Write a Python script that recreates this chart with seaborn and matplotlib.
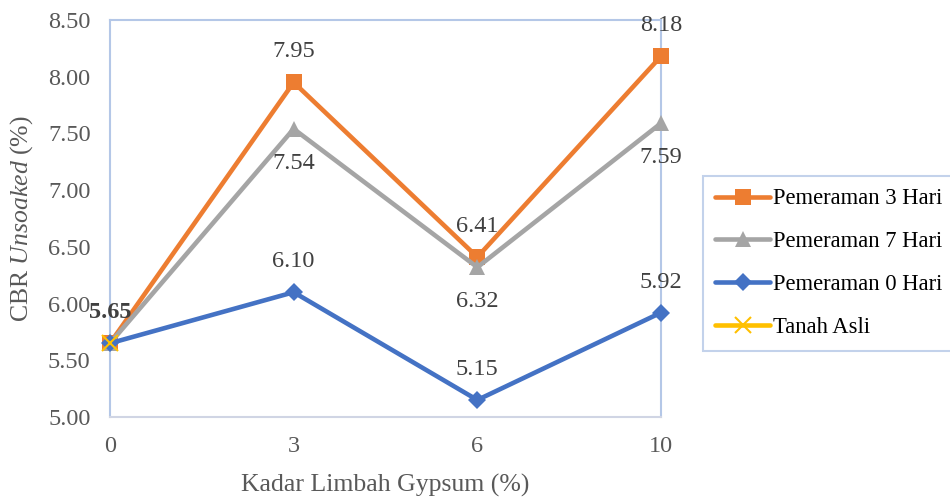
import matplotlib
matplotlib.use("Agg")
import matplotlib.pyplot as plt
import seaborn as sns
import pandas as pd
from matplotlib.lines import Line2D

categories = ["0", "3", "6", "10"]
hari3 = [5.65, 7.95, 6.41, 8.18]
hari7 = [5.65, 7.54, 6.32, 7.59]
hari0 = [5.65, 6.10, 5.15, 5.92]
tanah_asli = [5.65]

sns.set_theme(style="white")
plt.rcParams["font.family"] = ["Liberation Serif", "DejaVu Serif"]
plt.rcParams["mathtext.fontset"] = "custom"
plt.rcParams["mathtext.rm"] = "Liberation Serif"
plt.rcParams["mathtext.it"] = "Liberation Serif:italic"

TXT = "#595959"
LAB = "#404040"
FS = 17.5
fig = plt.figure(figsize=(9.5, 5), dpi=100)
ax = fig.add_axes([110/950, 83/500, 551/950, 397/500])

pos = list(range(len(categories)))
series = [
    ("Pemeraman 3 Hari", hari3, "#ED7D31", "s", 11, "above"),
    ("Pemeraman 7 Hari", hari7, "#A5A5A5", "^", 12, "below"),
    ("Pemeraman 0 Hari", hari0, "#4472C4", "D", 9.5, "above"),
    ("Tanah Asli", tanah_asli, "#FFC000", "x", 11, None),
]
handles = []
for name, vals, col, mk, ms, lab in series:
    df = pd.DataFrame({"x": pos[:len(vals)], "y": vals})
    sns.lineplot(data=df, x="x", y="y", ax=ax, color=col, linewidth=3.3,
                 marker=mk, markersize=ms, markeredgecolor=col,
                 markeredgewidth=1.5 if mk == "x" else 0, legend=False, clip_on=False, zorder=3)
    handles.append(Line2D([0], [0], color=col, lw=3.3, marker=mk, markersize=ms,
                          markeredgecolor=col, markeredgewidth=1.5 if mk == "x" else 0))
    if lab:
        for xi, v in zip(pos[1:], vals[1:]):
            off = 22 if lab == "above" else -25
            ax.annotate(f"{v:.2f}", (xi, v), xytext=(0, off), textcoords="offset points",
                        ha="center", va="center", fontsize=FS, color=LAB)

ax.annotate(f"{tanah_asli[0]:.2f}", (0, tanah_asli[0]), xytext=(0, 22), textcoords="offset points",
            ha="center", va="center", fontsize=FS, color=LAB, fontweight="bold")

ax.set_xlim(0, 3)
ax.set_ylim(5.0, 8.5)
ax.set_yticks([5.0, 5.5, 6.0, 6.5, 7.0, 7.5, 8.0, 8.5])
ax.set_yticklabels([f"{t:.2f}" for t in ax.get_yticks()])
ax.set_xticks(pos)
ax.set_xticklabels(categories)
ax.tick_params(axis="both", labelsize=FS, colors=TXT, length=0)
ax.tick_params(axis="x", pad=14)
ax.tick_params(axis="y", pad=14)
ax.set_xlabel("Kadar Limbah Gypsum (%)", fontsize=18.5, color=TXT, labelpad=12)
ax.set_ylabel("CBR $\\mathit{Unsoaked}$ (%)", fontsize=18.5, color=TXT, labelpad=9)
for s in ["left", "top", "right"]:
    ax.spines[s].set_color("#B4C7E7")
    ax.spines[s].set_linewidth(1.5)
ax.spines["bottom"].set_color("#D0D5E4")
ax.spines["bottom"].set_linewidth(1.5)
ax.grid(False)

leg = fig.legend(handles, [s[0] for s in series], loc="upper left",
                 bbox_to_anchor=(703/950, 1 - 176/500), fontsize=16.3,
                 frameon=True, fancybox=False, handlelength=2.4, handletextpad=0.15,
                 labelspacing=0.97, borderpad=0.55, borderaxespad=0)
leg.get_frame().set_edgecolor("#B4C7E7")
leg.get_frame().set_linewidth(1.5)
for t in leg.get_texts():
    t.set_color("#000000")

fig.savefig("out.png", dpi=100)
